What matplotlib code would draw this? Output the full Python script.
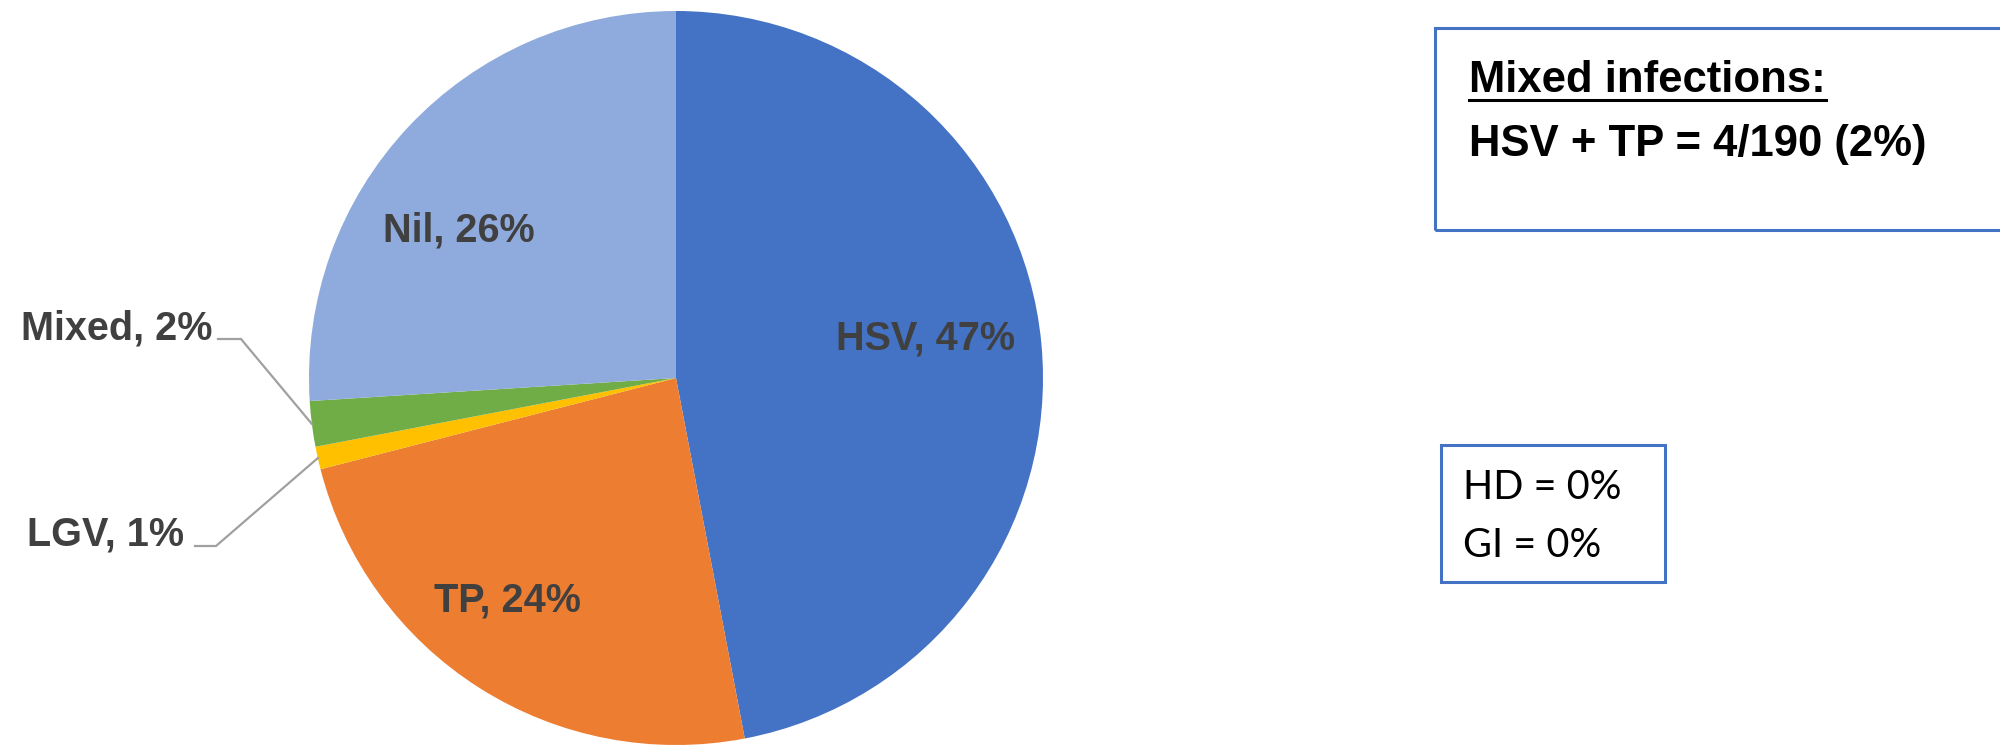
import matplotlib.pyplot as plt
import numpy as np

# data
categorias = ['HSV', 'TP', 'LGV', 'Mixed', 'Nil']
porcentajes = [47, 24, 1, 2, 26]
colores = ['#4472C4', '#ED7D31', '#FFC000', '#70AD47', '#8FAADC']

texto_mixed = ['Mixed infections:', 'HSV + TP = 4/190 (2%)']
texto_otros = ['HD = 0%', 'GI = 0%']

W, H = 2000, 746
def Y(y):
    # pixel (from top) -> data
    return H - y

fig = plt.figure(figsize=(20, 7.46), dpi=100)
ax = fig.add_axes([0, 0, 1, 1])

cx, cy, r = 676, 378, 367
wedges, _ = ax.pie(porcentajes, colors=colores, startangle=90, counterclock=False,
                   center=(cx, Y(cy)), radius=r, frame=True,
                   wedgeprops={'linewidth': 0})
ax.set_xlim(0, W)
ax.set_ylim(0, H)
ax.set_aspect('auto')
ax.axis('off')

gris = '#404040'
fuente = ['Liberation Sans', 'DejaVu Sans']

# etiquetas dentro de las porciones (x, baseline en pixeles)
pos_dentro = {'HSV': (925, 350), 'TP': (507, 611), 'Nil': (459, 241)}
for w, cat, p in zip(wedges, categorias, porcentajes):
    if cat in pos_dentro:
        x, yb = pos_dentro[cat]
        ax.text(x, Y(yb), '%s, %d%%' % (cat, p), ha='center', va='baseline',
                fontsize=28.5, fontweight='bold', color=gris, family=fuente)

# etiquetas con linea guia (x texto, baseline, inicio linea, codo, y linea)
pos_fuera = {'Mixed': (212, 340, 218, 241, 339), 'LGV': (184, 545, 195, 216, 546)}
for w, cat, p in zip(wedges, categorias, porcentajes):
    if cat in pos_fuera:
        xt, yb, x0, x1, yl = pos_fuera[cat]
        ang = np.deg2rad((w.theta1 + w.theta2) / 2)
        xe = cx + r * np.cos(ang)
        ye = Y(cy) + r * np.sin(ang)
        ax.plot([x0, x1, xe], [Y(yl), Y(yl), ye], color='#A0A0A0', lw=1.6,
                solid_joinstyle='miter')
        ax.text(xt, Y(yb), '%s, %d%%' % (cat, p), ha='right', va='baseline',
                fontsize=28.5, fontweight='bold', color=gris, family=fuente)

# cuadro mixed infections
azul = '#4472C4'
ax.add_patch(plt.Rectangle((1435, Y(230)), 600, 202, fill=False,
                           edgecolor=azul, lw=2.2, clip_on=False))
t1 = ax.text(1469, Y(92), texto_mixed[0], ha='left', va='baseline',
             fontsize=31.4, fontweight='bold', color='black', family=fuente)
ax.text(1469, Y(156), texto_mixed[1], ha='left', va='baseline',
        fontsize=31.4, fontweight='bold', color='black', family=fuente)
fig.canvas.draw()
bb = t1.get_window_extent()
ax.plot([bb.x0, bb.x1], [Y(100), Y(100)], color='black', lw=2.2)

# cuadro HD / GI
ax.add_patch(plt.Rectangle((1441, Y(582)), 224, 137, fill=False,
                           edgecolor=azul, lw=2.2))
ax.text(1463, Y(499), texto_otros[0], ha='left', va='baseline',
        fontsize=28.5, color='black', family=['Lato', 'DejaVu Sans'])
ax.text(1463, Y(557), texto_otros[1], ha='left', va='baseline',
        fontsize=28.5, color='black', family=['Lato', 'DejaVu Sans'])

fig.savefig('out.png', dpi=100)
